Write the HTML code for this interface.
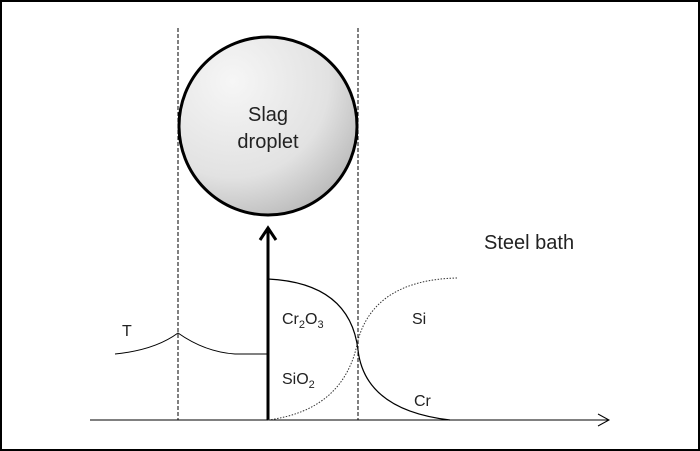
<!DOCTYPE html>
<html><head><style>
html,body{margin:0;padding:0;background:#fff;}
svg{display:block;}
text{font-family:"Liberation Sans",Arial,sans-serif;fill:#222;}
</style></head><body>
<svg width="700" height="451" viewBox="0 0 700 451">
<defs>
<radialGradient id="g" cx="0.3" cy="0.25" r="0.9">
<stop offset="0" stop-color="#f6f6f6"/><stop offset="0.6" stop-color="#e2e2e2"/><stop offset="1" stop-color="#b0b0b0"/>
</radialGradient>
</defs>
<rect x="1" y="1" width="698" height="449" fill="none" stroke="#000" stroke-width="2"/>
<line x1="178" y1="28" x2="178" y2="420" stroke="#000" stroke-width="1" stroke-dasharray="4,2"/>
<line x1="358" y1="28" x2="358" y2="420" stroke="#000" stroke-width="1" stroke-dasharray="4,2"/>
<circle cx="268" cy="126" r="89" fill="url(#g)" stroke="#000" stroke-width="3"/>
<text x="268" y="121" font-size="20" text-anchor="middle">Slag</text>
<text x="268" y="148" font-size="20" text-anchor="middle">droplet</text>
<line x1="90" y1="420" x2="608" y2="420" stroke="#000" stroke-width="1"/>
<path d="M598,414 L609,420 L598,426" fill="none" stroke="#000" stroke-width="1"/>
<line x1="268" y1="420" x2="268" y2="229" stroke="#000" stroke-width="3"/>
<path d="M260,240 L268,228 L276,240" fill="none" stroke="#000" stroke-width="3"/>
<path d="M115,354 Q155,350 178,333 Q205,352 235,354 L268,354" fill="none" stroke="#000" stroke-width="1"/>
<path d="M268,279 Q350,283 358,350 Q365,410 450,420" fill="none" stroke="#000" stroke-width="1.2"/>
<path d="M268,420 Q345,410 358,340 Q375,280 457,278" fill="none" stroke="#333" stroke-width="1" stroke-dasharray="1.5,1.5"/>
<text x="122" y="336" font-size="16">T</text>
<text x="282" y="324" font-size="16">Cr<tspan font-size="11" dy="4">2</tspan><tspan dy="-4">O</tspan><tspan font-size="11" dy="4">3</tspan></text>
<text x="282" y="384" font-size="16">SiO<tspan font-size="11" dy="4">2</tspan></text>
<text x="412" y="324" font-size="16">Si</text>
<text x="414" y="406" font-size="16">Cr</text>
<text x="484" y="249" font-size="20">Steel bath</text>
</svg>
</body></html>
